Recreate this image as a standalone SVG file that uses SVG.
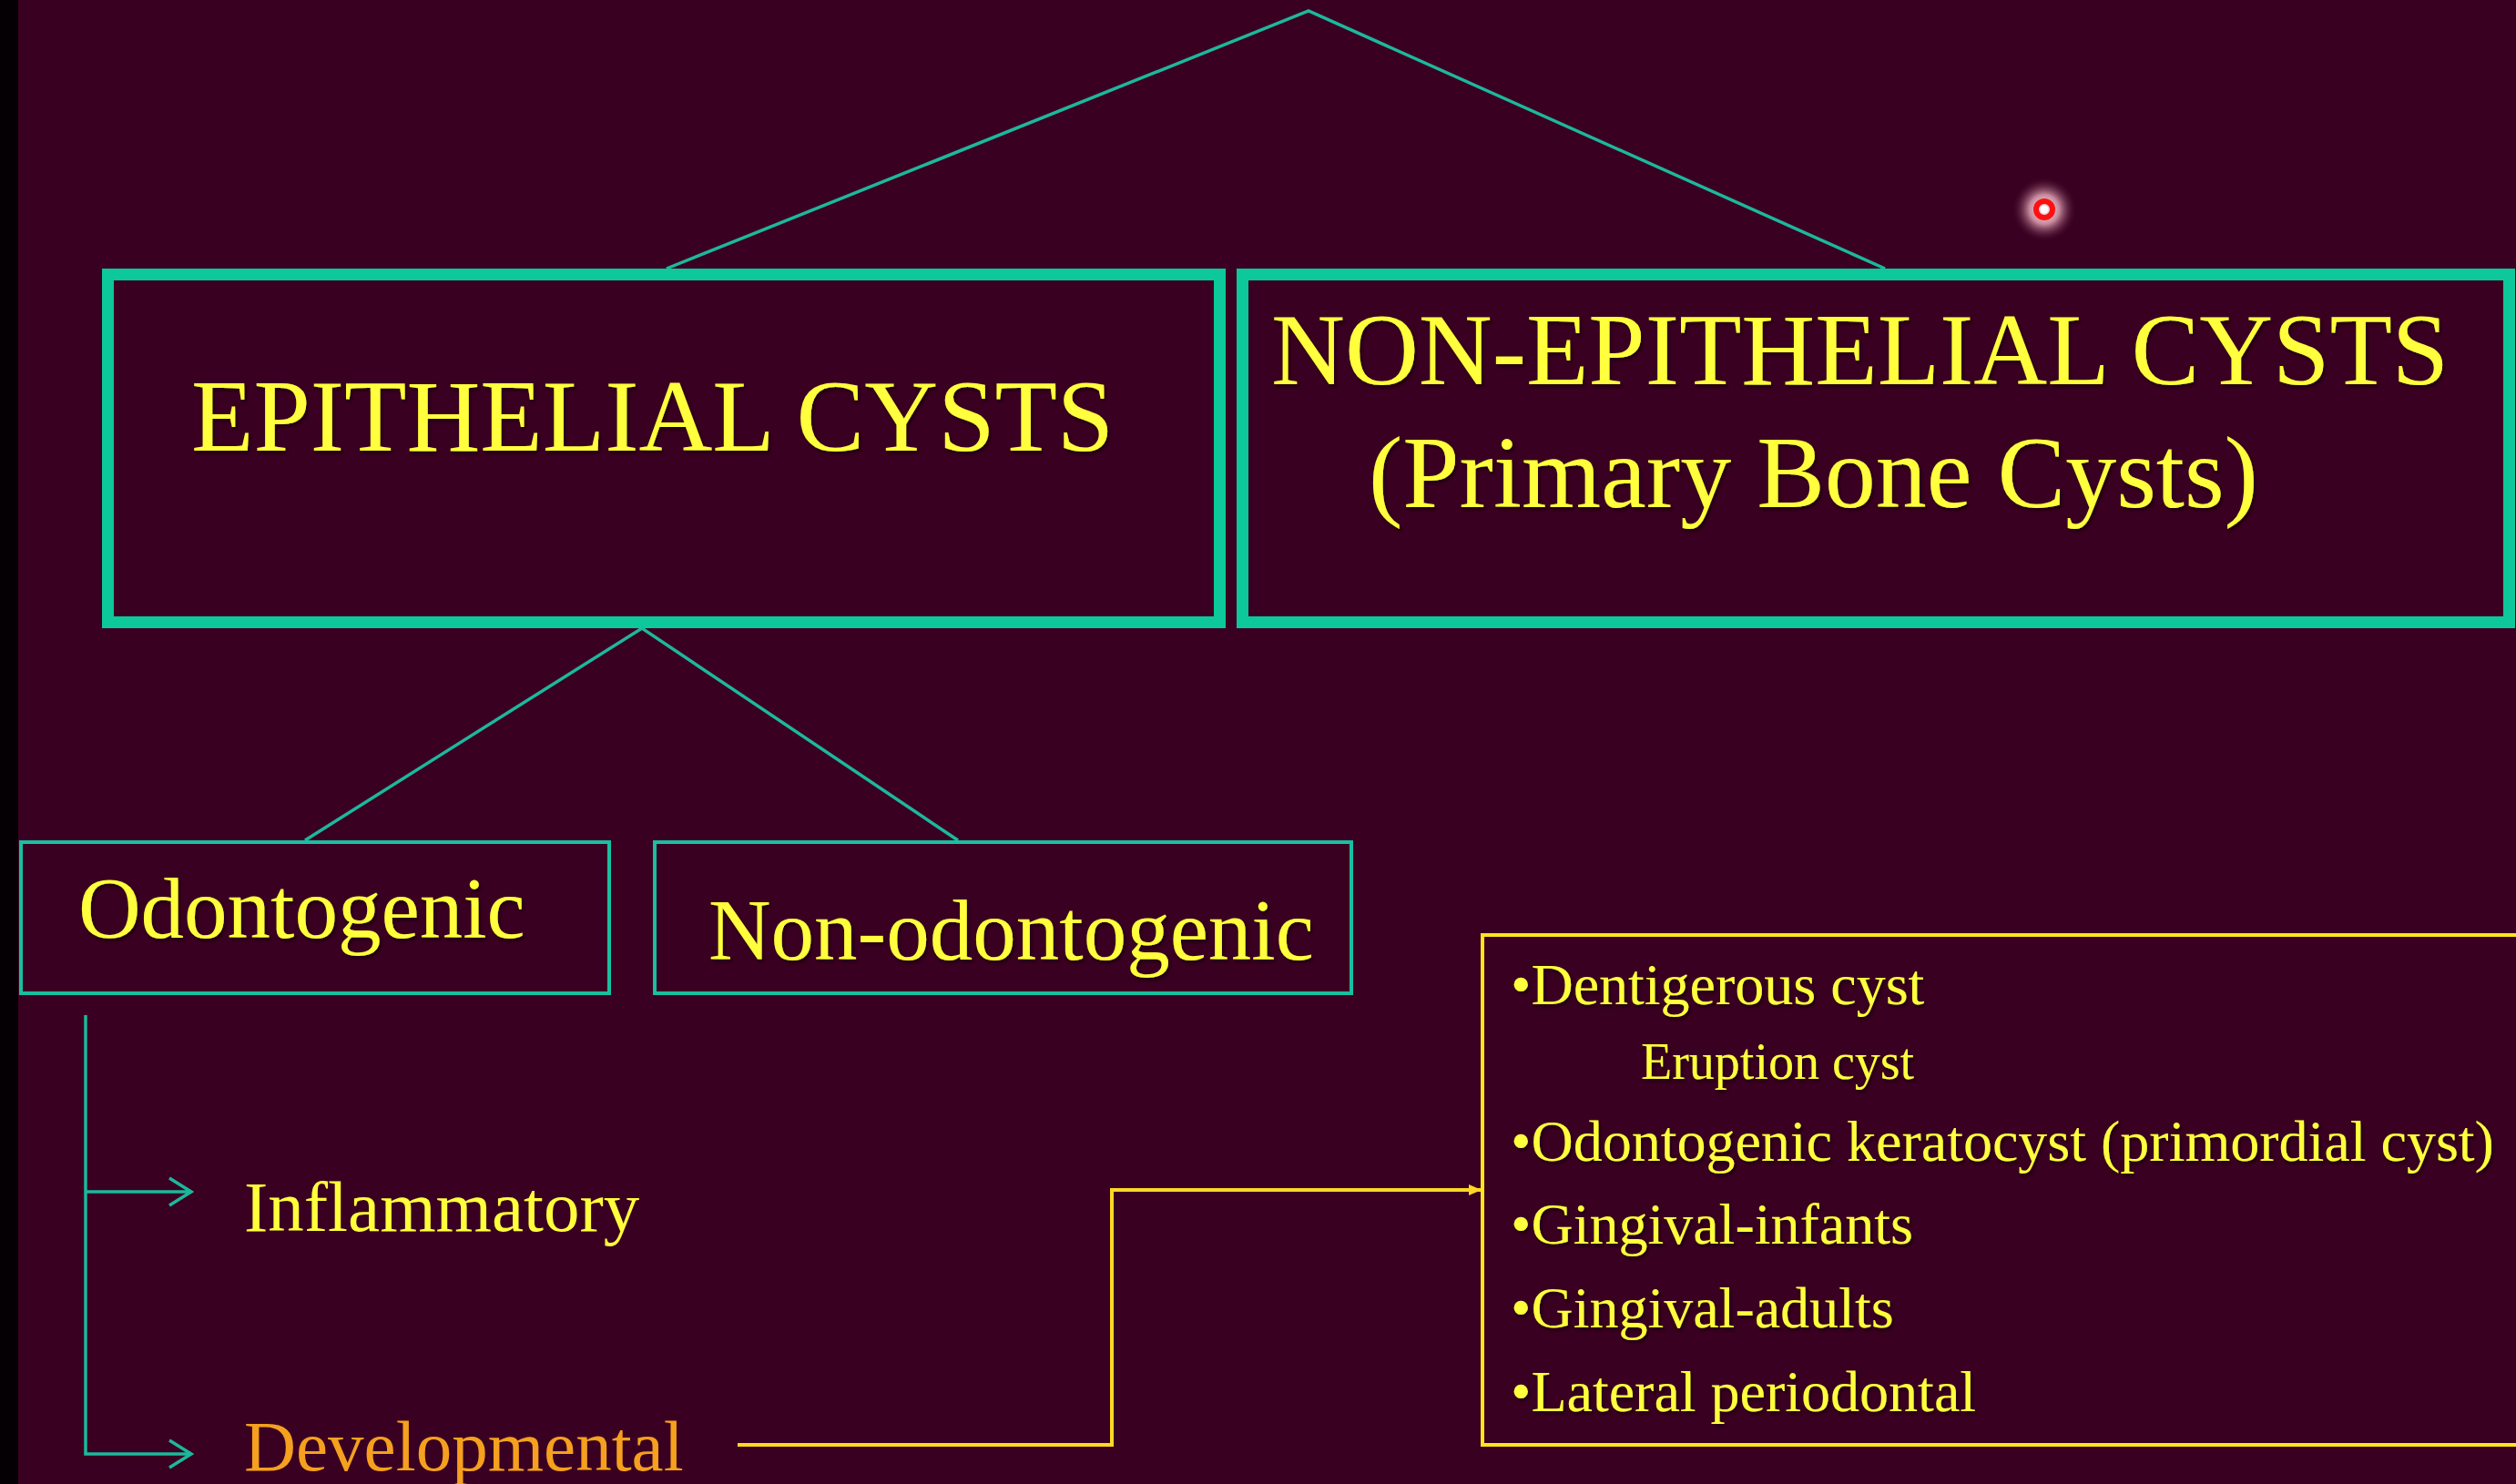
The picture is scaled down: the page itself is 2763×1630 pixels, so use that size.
<svg xmlns="http://www.w3.org/2000/svg" width="2763" height="1630" viewBox="0 0 2763 1630">
<style>
.bg{fill:#3A0021}
.big{fill:none;stroke:#0CC89B;stroke-width:13}
.thin{fill:none;stroke:#19BFA0;stroke-width:4}
.conn{fill:none;stroke:#1DB89C;stroke-width:3.5}
.yconn{fill:none;stroke:#FFD824;stroke-width:4}
.ybox{fill:none;stroke:#FFE41E;stroke-width:4}
text{font-family:"Liberation Serif","Times New Roman",serif;fill:#FFFF3C}
.h1{font-size:112px}
.h2{font-size:95px}
.h3{font-size:79px}
.li{font-size:64px}
.sub{font-size:56px}
.dev{fill:#F5A01E}
</style>
<defs>
<marker id="chev" markerWidth="32" markerHeight="36" refX="27" refY="18" orient="auto" markerUnits="userSpaceOnUse">
<path d="M3,3 L27,18 L3,33" fill="none" stroke="#1DB89C" stroke-width="3.5"/>
</marker>
<marker id="tri" markerWidth="16" markerHeight="14" refX="14" refY="7" orient="auto" markerUnits="userSpaceOnUse">
<path d="M0,1 L14,7 L0,13 Z" fill="#FFD824"/>
</marker>
<radialGradient id="glow">
<stop offset="0" stop-color="#FFFFFF" stop-opacity="1"/>
<stop offset="0.45" stop-color="#F6B8C6" stop-opacity="0.75"/>
<stop offset="1" stop-color="#3A0021" stop-opacity="0"/>
</radialGradient>
<filter id="sh" x="-5%" y="-5%" width="110%" height="120%">
<feDropShadow dx="2" dy="3" stdDeviation="1.5" flood-color="#1a0008" flood-opacity="0.9"/>
</filter>
</defs>
<rect class="bg" x="0" y="0" width="2763" height="1630"/>
<rect x="0" y="0" width="20" height="1630" fill="#050003"/>

<g id="connectors">
<polyline class="conn" points="732,295 1437,12 2070,295"/>
<polyline class="conn" points="335,923 705,690 1052,923"/>
<polyline class="conn" points="94,1115 94,1597 210,1597" marker-end="url(#chev)"/>
<line class="conn" x1="94" y1="1309" x2="210" y2="1309" marker-end="url(#chev)"/>
<polyline class="yconn" points="810,1587 1221,1587 1221,1307 1627,1307" marker-end="url(#tri)"/>
</g>

<g id="epithelial">
<rect class="big" x="118.5" y="301.5" width="1221" height="382"/>
<text class="h1" x="210" y="495" filter="url(#sh)">EPITHELIAL CYSTS</text>
</g>

<g id="non-epithelial">
<rect class="big" x="1364.5" y="301.5" width="1391" height="382"/>
<text class="h1" x="1396" y="422" filter="url(#sh)">NON-EPITHELIAL CYSTS</text>
<text class="h1" x="1503" y="557" filter="url(#sh)">(Primary Bone Cysts)</text>
</g>

<g id="odontogenic">
<rect class="thin" x="23" y="925" width="646" height="166"/>
<text class="h2" x="86" y="1030" filter="url(#sh)">Odontogenic</text>
</g>

<g id="non-odontogenic">
<rect class="thin" x="719" y="925" width="765" height="166"/>
<text class="h2" x="778" y="1054" filter="url(#sh)">Non-odontogenic</text>
</g>

<g id="inflammatory">
<text class="h3" x="268" y="1352">Inflammatory</text>
</g>

<g id="developmental">
<text class="h3 dev" x="268" y="1615">Developmental</text>
</g>

<g id="developmental-list">
<rect class="ybox" x="1628" y="1027" width="1160" height="560"/>
<text class="li" x="1659" y="1103" filter="url(#sh)">•Dentigerous cyst</text>
<text class="sub" x="1802" y="1185" filter="url(#sh)">Eruption cyst</text>
<text class="li" x="1659" y="1275" filter="url(#sh)">•Odontogenic keratocyst (primordial cyst)</text>
<text class="li" x="1659" y="1366" filter="url(#sh)">•Gingival-infants</text>
<text class="li" x="1659" y="1458" filter="url(#sh)">•Gingival-adults</text>
<text class="li" x="1659" y="1550" filter="url(#sh)">•Lateral periodontal</text>
</g>

<g id="pointer">
<circle cx="2245" cy="230" r="36" fill="url(#glow)"/>
<circle cx="2245" cy="230" r="9" fill="none" stroke="#FF1010" stroke-width="6"/>
<circle cx="2245" cy="230" r="4" fill="#FFFFFF"/>
</g>
</svg>
